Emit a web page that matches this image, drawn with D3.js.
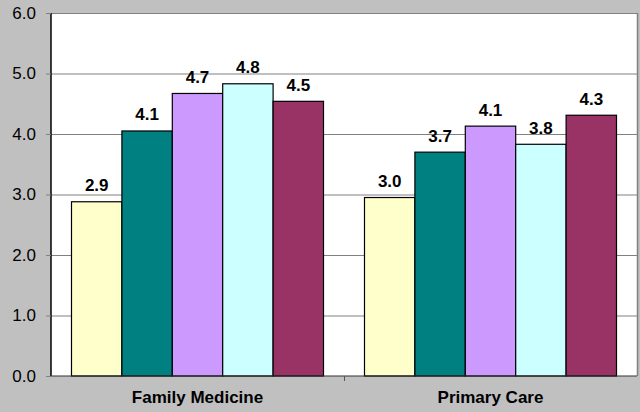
<!DOCTYPE html>
<html><head><meta charset="utf-8">
<script src="https://cdn.jsdelivr.net/npm/d3@7"></script>
<style>html,body{margin:0;padding:0;background:#c0c0c0;}svg{display:block;}</style>
</head><body>
<svg id="chart" width="640" height="412"></svg>
<script>
const categories = ["Family Medicine", "Primary Care"];
const seriesNames = ["S1", "S2", "S3", "S4", "S5"];
const seriesColors = ["#FFFFCC", "#008080", "#CC99FF", "#CCFFFF", "#993366"];
const familyMedicine = [2.88, 4.05, 4.67, 4.83, 4.54];
const primaryCare = [2.95, 3.70, 4.13, 3.83, 4.31];
const labelsFM = ["2.9", "4.1", "4.7", "4.8", "4.5"];
const labelsPC = ["3.0", "3.7", "4.1", "3.8", "4.3"];
const yTicks = [0, 1, 2, 3, 4, 5, 6];

const values = [familyMedicine, primaryCare];
const labels = [labelsFM, labelsPC];
const FONT = "'Liberation Sans', Arial, sans-serif";

const svg = d3.select("#chart");
const m = {left: 51, right: 637, top: 13, bottom: 376};

svg.append("rect").attr("x",0).attr("y",0).attr("width",640).attr("height",412).attr("fill","#c0c0c0");
svg.append("rect").attr("x",m.left).attr("y",m.top).attr("width",m.right-m.left).attr("height",m.bottom-m.top).attr("fill","#fff");

const y = d3.scaleLinear().domain([0,6]).range([m.bottom, m.top]);
const x0 = d3.scaleBand().domain(categories).range([m.left, m.right]).paddingInner(0).paddingOuter(0);
const x1 = d3.scaleBand().domain(seriesNames).range([20.5, x0.bandwidth()-20.5]).padding(0);

// gridlines
svg.append("g").selectAll("line").data(yTicks.filter(d=>d>0)).join("line")
  .attr("x1", m.left).attr("x2", m.right)
  .attr("y1", d=>y(d)+0.5).attr("y2", d=>y(d)+0.5)
  .attr("stroke", "#808080").attr("stroke-width", 1);
// right border
svg.append("line").attr("x1", m.right+0.5).attr("x2", m.right+0.5).attr("y1", m.top).attr("y2", m.bottom)
  .attr("stroke", "#808080").attr("stroke-width", 1.5);

// bars
const groups = svg.append("g").selectAll("g").data(categories).join("g")
  .attr("transform", c => `translate(${x0(c)},0)`);
groups.each(function(c, gi){
  const g = d3.select(this);
  const data = values[gi].map((v,i)=>({v, s: seriesNames[i], c: seriesColors[i], l: labels[gi][i]}));
  g.selectAll("rect").data(data).join("rect")
    .attr("x", d=>x1(d.s)).attr("width", x1.bandwidth())
    .attr("y", d=>y(d.v)).attr("height", d=>y(0)-y(d.v))
    .attr("fill", d=>d.c).attr("stroke", "#000").attr("stroke-width", 1.2);
  g.selectAll("text").data(data).join("text")
    .attr("x", d=>x1(d.s)+x1.bandwidth()/2).attr("y", d=>y(d.v)-10.5)
    .attr("text-anchor","middle")
    .attr("font-family",FONT).attr("font-size","17px").attr("font-weight","bold")
    .attr("fill","#000").text(d=>d.l);
});

// y axis
const yAxis = d3.axisLeft(y).tickValues(yTicks).tickFormat(d3.format(".1f")).tickSize(5).tickPadding(10);
const ya = svg.append("g").attr("transform", `translate(${m.left},0)`).call(yAxis);
ya.select(".domain").attr("stroke","#000").attr("stroke-width",1.5).attr("d", `M0,${m.top}V${m.bottom}`);
ya.selectAll(".tick line").attr("stroke","#808080");
ya.selectAll(".tick text").attr("font-family",FONT).attr("font-size","17px").attr("fill","#000");

// x axis
const xa = svg.append("g").attr("transform", `translate(0,${m.bottom})`)
  .call(d3.axisBottom(x0).tickSize(0).tickPadding(14.5));
xa.select(".domain").attr("stroke","#333").attr("stroke-width",1.2).attr("d", `M${m.left},0H${m.right}`);
xa.selectAll(".tick text").attr("font-family",FONT).attr("font-size","17px").attr("font-weight","bold").attr("fill","#000");
// boundary ticks
svg.append("g").selectAll("line").data(categories.slice(1)).join("line")
  .attr("x1", c=>x0(c)+0.5).attr("x2", c=>x0(c)+0.5)
  .attr("y1", m.bottom).attr("y2", m.bottom+5).attr("stroke","#555");
</script>
</body></html>
